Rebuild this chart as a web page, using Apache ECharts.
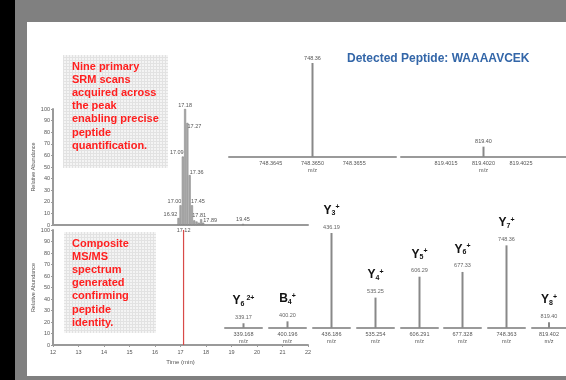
<!DOCTYPE html>
<html>
<head>
<meta charset="utf-8">
<script src="https://cdn.jsdelivr.net/npm/echarts@6/dist/echarts.min.js"></script>
<style>
  html, body { margin: 0; background: #808080; }
  #chart { width: 566px; height: 380px; }
</style>
</head>
<body>
<div id="chart"></div>
<script>
// chromatogram (top left)
const chromTimes = [16.92, 17.00, 17.09, 17.18, 17.27, 17.36, 17.45, 17.54, 17.63, 17.72, 17.81, 17.89, 19.45];
const chromIntensity = [6, 17, 59, 100, 88, 43, 17, 4, 3, 2, 5, 2, 1];
const chromLabeled = [16.92, 17.00, 17.09, 17.18, 17.27, 17.36, 17.45, 17.81, 17.89, 19.45];
const markerTime = 17.12;
const timeTicks = [12, 13, 14, 15, 16, 17, 18, 19, 20, 21, 22];

// precursor insets (top right)
const insetMz = [748.3650, 819.4020];
const insetIntensity = [100, 11];
const insetPeakLabels = ["748.36", "819.40"];
const insetTicks = [
  [748.3645, 748.3650, 748.3655],
  [819.4015, 819.4020, 819.4025]
];

// fragment ions (bottom right)
const fragLetter = ["Y", "B", "Y", "Y", "Y", "Y", "Y", "Y"];
const fragSub = ["6", "4", "3", "4", "5", "6", "7", "8"];
const fragCharge = [" 2+", "+", "+", "+", "+", "+", "+", "+"];
const fragMz = [339.168, 400.196, 436.186, 535.254, 606.291, 677.328, 748.363, 819.402];
const fragIntensity = [5, 7, 100, 32, 54, 59, 87, 6];

const FONT = "Liberation Sans, Arial, sans-serif";
const AXIS_GRAY = "#9a9a9a";
const LABEL_GRAY = "#555";

// per-peak label nudges for the crowded chromatogram
const chromNudge = {
  "16.92": [-8, 0], "17.00": [-6, 0], "17.09": [-6, 0], "17.18": [0, 0],
  "17.27": [7, 8], "17.36": [7, 1], "17.45": [6, 0], "17.81": [-2, 0],
  "17.89": [7, 2], "19.45": [0, 0]
};

function patternCanvas() {
  const c = document.createElement("canvas");
  c.width = 3; c.height = 3;
  const ctx = c.getContext("2d");
  ctx.fillStyle = "#f4f4f4";
  ctx.fillRect(0, 0, 3, 3);
  ctx.fillStyle = "#e2e2e2";
  ctx.fillRect(0, 0, 3, 1);
  ctx.fillRect(0, 0, 1, 3);
  return c;
}

const chart = echarts.init(document.getElementById("chart"), null, { renderer: "canvas" });

const grids = [];
const xAxes = [];
const yAxes = [];
const series = [];

const tinyLabel = { fontSize: 5.5, color: LABEL_GRAY, fontFamily: FONT };

function chromYAxis(gridIndex) {
  return {
    gridIndex, type: "value", min: 0, max: 100, interval: 10,
    name: "Relative Abundance", nameLocation: "middle", nameGap: 10, nameRotate: 90,
    nameTextStyle: { fontSize: 5.5, color: LABEL_GRAY, fontFamily: FONT },
    axisLine: { show: true, lineStyle: { color: AXIS_GRAY, width: 2 } },
    axisTick: { show: true, length: 2, lineStyle: { color: AXIS_GRAY } },
    axisLabel: { ...tinyLabel, margin: 3 },
    splitLine: { show: false }
  };
}

// top chromatogram
grids.push({ left: 53, top: 109, width: 255, height: 116 });
xAxes.push({
  gridIndex: 0, type: "value", min: 12, max: 22,
  axisLine: { lineStyle: { color: AXIS_GRAY, width: 2 } },
  axisTick: { show: false },
  axisLabel: { ...tinyLabel, margin: 2, customValues: [markerTime], formatter: (v) => v.toFixed(2) },
  splitLine: { show: false }
});
yAxes.push(chromYAxis(0));
series.push({
  type: "bar", xAxisIndex: 0, yAxisIndex: 0, barWidth: 2,
  itemStyle: { color: "#b0b0b0", borderColor: "#777", borderWidth: 0.5 },
  data: chromTimes.map((t, i) => {
    const key = t.toFixed(2);
    const show = chromLabeled.includes(t);
    const nudge = chromNudge[key] || [0, 0];
    return {
      value: [t, chromIntensity[i]],
      label: { show, position: "top", distance: 1, offset: nudge, formatter: key, ...tinyLabel }
    };
  })
});

// bottom MS/MS time panel
grids.push({ left: 53, top: 230, width: 255, height: 115 });
xAxes.push({
  gridIndex: 1, type: "value", min: 12, max: 22, interval: 1,
  name: "Time (min)", nameLocation: "middle", nameGap: 14,
  nameTextStyle: { fontSize: 6, color: LABEL_GRAY, fontFamily: FONT },
  axisLine: { lineStyle: { color: AXIS_GRAY, width: 2 } },
  axisTick: { show: true, length: 2, lineStyle: { color: AXIS_GRAY } },
  axisLabel: { ...tinyLabel, margin: 4, customValues: timeTicks },
  splitLine: { show: false }
});
yAxes.push(chromYAxis(1));
series.push({
  type: "line", xAxisIndex: 1, yAxisIndex: 1, symbol: "none",
  lineStyle: { color: "#d84a48", width: 1.2 },
  data: [[markerTime, 0], [markerTime, 100]]
});

// precursor insets
const insetLayout = [
  { left: 229, width: 167, min: 748.3640, max: 748.3660 },
  { left: 401, width: 166, min: 819.4009, max: 819.4031 }
];
insetMz.forEach((mz, i) => {
  const g = grids.length;
  const lay = insetLayout[i];
  grids.push({ left: lay.left, top: 63, width: lay.width, height: 94 });
  xAxes.push({
    gridIndex: g, type: "value", min: lay.min, max: lay.max,
    name: "m/z", nameLocation: "middle", nameGap: 10,
    nameTextStyle: { fontSize: 5.5, color: LABEL_GRAY, fontFamily: FONT },
    axisLine: { lineStyle: { color: AXIS_GRAY, width: 2 } },
    axisTick: { show: false },
    axisLabel: { ...tinyLabel, margin: 3, customValues: insetTicks[i], formatter: (v) => v.toFixed(4) },
    splitLine: { show: false }
  });
  yAxes.push({ gridIndex: g, type: "value", min: 0, max: 100, show: false });
  series.push({
    type: "bar", xAxisIndex: g, yAxisIndex: g, barWidth: 2,
    itemStyle: { color: "#888" },
    label: { show: true, position: "top", distance: 2, formatter: insetPeakLabels[i], ...tinyLabel },
    data: [[mz, insetIntensity[i]]]
  });
});

// fragment ion insets
const fragLefts = [225, 269, 313, 357, 401, 444, 488, 532];
const ionStyle = { fontWeight: "bold", color: "#111", fontFamily: FONT, lineHeight: 13 };
fragMz.forEach((mz, i) => {
  const g = grids.length;
  grids.push({ left: fragLefts[i], top: 233, width: 37, height: 95 });
  xAxes.push({
    gridIndex: g, type: "value", min: mz - 0.5, max: mz + 0.5,
    name: "m/z", nameLocation: "middle", nameGap: 10,
    nameTextStyle: { fontSize: 5.5, color: LABEL_GRAY, fontFamily: FONT },
    axisLine: { lineStyle: { color: AXIS_GRAY, width: 2 } },
    axisTick: { show: false },
    axisLabel: { ...tinyLabel, margin: 3, customValues: [mz], formatter: (v) => v.toFixed(3) },
    splitLine: { show: false }
  });
  yAxes.push({ gridIndex: g, type: "value", min: 0, max: 100, show: false });
  series.push({
    type: "bar", xAxisIndex: g, yAxisIndex: g, barWidth: 2,
    itemStyle: { color: "#888" },
    label: {
      show: true, position: "top", distance: 2, align: "center",
      formatter: `{ion|${fragLetter[i]}}{sub|${fragSub[i]}}{sup|${fragCharge[i]}}\n{gap| }\n{mz|${mz.toFixed(2)}}`,
      rich: {
        ion: { ...ionStyle, fontSize: 12 },
        sub: { ...ionStyle, fontSize: 7, verticalAlign: "bottom" },
        sup: { ...ionStyle, fontSize: 7, verticalAlign: "top" },
        gap: { fontSize: 1, lineHeight: 6 },
        mz: { fontSize: 5.5, color: "#666", fontFamily: FONT, lineHeight: 8 }
      }
    },
    data: [[mz, fragIntensity[i]]]
  });
});

const pattern = { image: patternCanvas(), repeat: "repeat" };
const redText = { font: `bold 11px ${FONT}`, fill: "#ff1f1f", lineHeight: 13.2 };

const option = {
  backgroundColor: "#808080",
  animation: false,
  textStyle: { fontFamily: FONT },
  grid: grids,
  xAxis: xAxes,
  yAxis: yAxes,
  series,
  graphic: [
    { type: "rect", z: -10, shape: { x: 0, y: 0, width: 15, height: 380 }, style: { fill: "#000" } },
    { type: "rect", z: -10, shape: { x: 27, y: 22, width: 539, height: 354 }, style: { fill: "#fff" } },
    { type: "rect", z: -5, shape: { x: 63, y: 55, width: 105, height: 113 }, style: { fill: pattern } },
    { type: "rect", z: -5, shape: { x: 64, y: 232, width: 92, height: 101 }, style: { fill: pattern } },
    {
      type: "text", left: 72, top: 60,
      style: { text: "Nine primary\nSRM scans\nacquired across\nthe peak\nenabling precise\npeptide\nquantification.", ...redText }
    },
    {
      type: "text", left: 72, top: 237,
      style: { text: "Composite\nMS/MS\nspectrum\ngenerated\nconfirming\npeptide\nidentity.", ...redText }
    },
    {
      type: "text", left: 347, top: 53,
      style: { text: "Detected Peptide: WAAAAVCEK", font: `bold 12px ${FONT}`, fill: "#3366a8" }
    }
  ]
};

chart.setOption(option);
</script>
</body>
</html>
